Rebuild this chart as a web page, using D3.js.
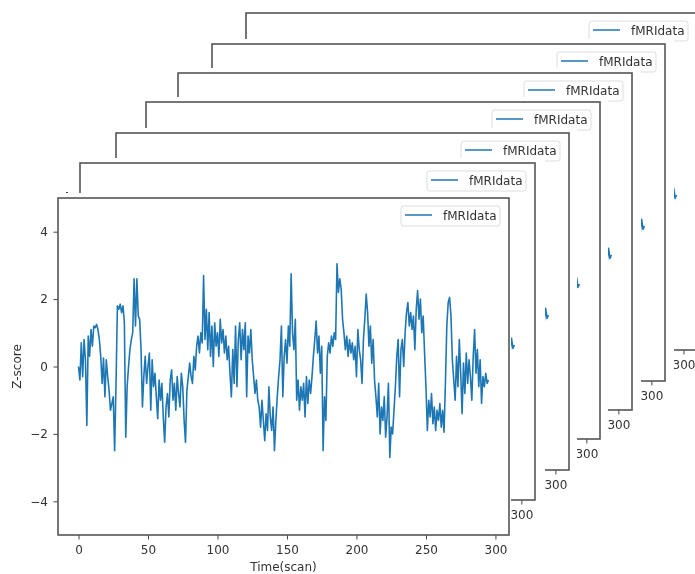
<!DOCTYPE html>
<html lang="en">
  <head>
    <meta charset="utf-8">
    <script src="https://d3js.org/d3.v7.min.js"></script>
    <style>
      body { margin: 0; background: #fff; }
      text { font-family: "DejaVu Sans", sans-serif; }
    </style>
    <title>fMRI stack</title>
  </head>
  <body>
    <div id="stack"></div>
    <script>
      // z-scored fMRI signal, one value per scan
      var zscore = [
        0.0, -0.4, 0.7, -0.3, 0.8, 0.2, -1.75, 0.9, 0.3, 1.1,
        0.6, 1.2, 1.15, 1.25, 1.1, 0.8, 0.3, -0.5, 0.25, -0.9,
        0.2, -0.3, -0.7, -1.3, -1.1, -0.9, -2.5, -0.5, 1.8, 1.7,
        1.85, 1.6, 1.8, 1.3, -2.1, -0.6, 0.0, 0.5, 0.8, 1.0,
        2.6, 1.2, 2.6, 1.5, 1.4, 0.5, -1.2, -0.3, 0.3, -0.5,
        0.0, 0.4, -1.3, 0.2, -0.6, -0.2, -0.9, -1.55, -0.4, -1.0,
        -0.5, -1.5, -2.25, -1.2, -0.8, -1.5, -0.4, -0.1, -1.0, -0.5,
        -1.3, -0.3, -0.8, -1.2, -0.2, -0.6, -1.6, -2.25, -0.7, -0.3,
        0.1, -0.3, -0.5, 0.3, -0.1, 0.6, 0.9, 0.4, 1.0, 0.7,
        2.7, 0.8, 1.7, 0.5, 1.6, 0.3, 1.2, 0.0, 1.3, 0.6,
        1.0, 0.3, 1.4, 0.7, 1.1, 0.4, 0.9, 0.2, 0.6, -0.2,
        -0.9, 0.5, -0.5, 1.2, -0.6, 0.8, 1.3, 0.2, 1.1, 0.5,
        1.3, -0.9, 0.9, 0.4, 1.1, 0.2, -0.3, -0.8, -0.4, -1.0,
        -1.2, -1.8, -1.0, -1.6, -2.2, -1.4, -1.9, -0.6, -1.5, -1.9,
        -1.2, -2.5, -1.6, -0.9, -0.3, 0.2, 1.2, -0.9, 0.3, 0.8,
        0.1, 1.2, 0.6, 2.75, 1.0, 0.5, 1.4, -1.0, -0.4, -1.3,
        -0.6, -1.0, -0.5, -1.5, -0.3, -1.1, -0.4, -0.8, -0.3, 0.3,
        0.8, 1.35, 0.4, 0.9, -0.2, 0.6, -2.5, -0.9, -1.6, 0.3,
        0.7, 0.4, 0.9, 0.6, 1.0, 0.8, 3.05, 2.2, 2.6, 2.3,
        1.4, 1.0, 0.5, 0.9, 0.3, 0.8, 0.4, 0.7, 0.2, 0.6,
        -0.3, 1.1, 0.5, 0.2, -0.5, 0.8, 1.4, 2.15, 1.6, 0.6,
        1.2, 0.1, 0.8, -0.4, -0.9, -1.5, -0.5, -2.0, -1.2, -1.6,
        -0.9, -2.1, -1.5, -0.5, -2.7, -1.8, -2.0, -1.3, -0.6, 0.3,
        0.8, -0.9, 0.5, 0.8, 0.0, 1.0, 1.6, 1.9, 1.2, 1.6,
        1.1, 1.5, 0.5, 1.7, 2.25, 1.4, 2.0, 1.0, 1.5, 0.4,
        -0.6, -1.9, -1.0, -1.5, -0.8, -1.7, -1.2, -1.9, -1.3, -1.6,
        -1.1, -1.8, -1.3, -1.95, -0.5, 1.2, 1.9, 2.05, 1.5, 0.2,
        -0.4, -1.0, 0.3, -0.6, 0.8, -0.2, -1.4, 0.1, -0.8, 0.4,
        -0.5, 0.2, -0.3, -1.0, 0.3, 1.1, -0.2, 0.5, -0.6, 0.2,
        -1.1, -0.3, -0.6, -0.2, -0.5, -0.4
      ];
      var scans = d3.range(zscore.length);
      var xTicks = [0, 50, 100, 150, 200, 250, 300];
      var yTicks = [-4, -2, 0, 2, 4];
      var xDomain = [-14.75, 309.75];
      var yDomain = [-5, 5];
      var seriesName = "fMRIdata";
      var xTitle = "Time(scan)";
      var yTitle = "Z-score";

      // axes boxes of the stacked copies, back one first, front one last
      // fr = right edge of the white figure behind each copy
      var panels = [
        {l: 246, t: 13,  r: 697, fr: 700},
        {l: 212, t: 44,  r: 665, fr: 674},
        {l: 178, t: 73,  r: 632, fr: 641},
        {l: 146, t: 102, r: 600, fr: 608},
        {l: 116, t: 133, r: 569, fr: 577},
        {l: 80,  t: 163, r: 535, fr: 545},
        {l: 58,  t: 198, r: 509, fr: 511}
      ];
      var axH = 337;

      var svg = d3.select("#stack").append("svg")
          .attr("width", 695)
          .attr("height", 574);

      svg.append("defs").append("filter")
          .attr("id", "soft")
          .append("feGaussianBlur")
          .attr("stdDeviation", 0.45);

      var root = svg.append("g").attr("filter", "url(#soft)");

      panels.forEach(function (p, i) {
        var b = p.t + axH;
        var front = i === panels.length - 1;
        var g = root.append("g").attr("class", "panel");

        // the figure behind the axes hides the copies further back
        g.append("rect")
            .attr("x", p.l - 58)
            .attr("y", p.t - 5)
            .attr("width", p.fr - p.l + 58)
            .attr("height", axH + 50)
            .attr("fill", "#fff");

        var x = d3.scaleLinear().domain(xDomain).range([p.l, p.r]);
        var y = d3.scaleLinear().domain(yDomain).range([b, p.t]);

        g.append("clipPath").attr("id", "clip" + i)
          .append("rect")
            .attr("x", p.l).attr("y", p.t)
            .attr("width", p.r - p.l).attr("height", axH);

        var line = d3.line()
            .x(function (d) { return x(d); })
            .y(function (d) { return y(zscore[d]); });

        g.append("path")
            .datum(scans)
            .attr("clip-path", "url(#clip" + i + ")")
            .attr("fill", "none")
            .attr("stroke", "#1f77b4")
            .attr("stroke-width", 1.6)
            .attr("stroke-linejoin", "round")
            .attr("d", line);

        var xAxis = g.append("g")
            .attr("transform", "translate(0," + b + ")")
            .call(d3.axisBottom(x).tickValues(xTicks).tickSize(4.5).tickPadding(6));
        var yAxis = g.append("g")
            .attr("transform", "translate(" + p.l + ",0)")
            .call(d3.axisLeft(y).tickValues(yTicks).tickSize(4.5).tickPadding(5.5)
              .tickFormat(function (d) { return d < 0 ? "\u2212" + (-d) : d; }));

        [xAxis, yAxis].forEach(function (a) {
          a.select(".domain").remove();
          a.selectAll("line").attr("stroke", "#444");
          a.selectAll("text")
              .attr("fill", "#333")
              .style("font-size", "12px")
              .style("font-family", "DejaVu Sans, sans-serif");
        });

        // spines
        g.append("rect")
            .attr("x", p.l).attr("y", p.t)
            .attr("width", p.r - p.l).attr("height", axH)
            .attr("fill", "none")
            .attr("stroke", "#555")
            .attr("stroke-width", 1.6);

        // axis titles of the back copies are fully covered, so only the front gets them
        if (front) {
          g.append("text")
              .attr("transform", "translate(" + (p.l - 41) + "," + (p.t + axH / 2) + ") rotate(-90)")
              .attr("text-anchor", "middle")
              .attr("dy", "0.35em")
              .attr("fill", "#333")
              .style("font-size", "12px")
              .text(yTitle);

          g.append("text")
              .attr("x", (p.l + p.r) / 2)
              .attr("y", b + 36)
              .attr("text-anchor", "middle")
              .attr("fill", "#333")
              .style("font-size", "12px")
              .text(xTitle);
        }

        // legend, upper right
        var lg = g.append("g").attr("transform", "translate(" + p.r + "," + p.t + ")");
        lg.append("rect")
            .attr("x", -108).attr("y", 8)
            .attr("width", 99).attr("height", 20)
            .attr("rx", 2.5)
            .attr("fill", "#fff")
            .attr("fill-opacity", 0.8)
            .attr("stroke", "#ddd");
        lg.append("line")
            .attr("x1", -104).attr("x2", -77)
            .attr("y1", 17).attr("y2", 17)
            .attr("stroke", "#1f77b4")
            .attr("stroke-width", 1.5);
        lg.append("text")
            .attr("x", -66).attr("y", 21.5)
            .attr("fill", "#333")
            .style("font-size", "12px")
            .text(seriesName);
      });
    </script>
  </body>
</html>
